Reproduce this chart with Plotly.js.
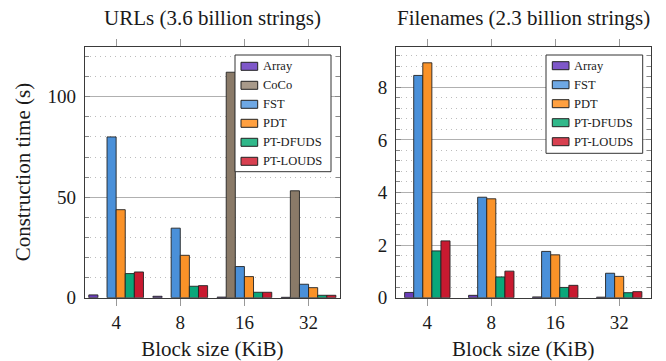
<!DOCTYPE html>
<html>
<head>
<meta charset="utf-8">
<script src="https://cdn.plot.ly/plotly-3.0.1.min.js"></script>
<style>html,body{margin:0;padding:0;background:#fff}</style>
</head>
<body>
<div id="chart" style="width:666px;height:361px"></div>
<script>
// Block sizes shared by both panels
const blockSizes = ['4', '8', '16', '32'];

// URLs (3.6 billion strings): construction time in seconds
const urlSeries = ['Array', 'CoCo', 'FST', 'PDT', 'PT-DFUDS', 'PT-LOUDS'];
const urlArray = [1.4, 0.7, 0.3, 0.2];
const urlCoCo  = [null, null, 112.2, 53.2];
const urlFST   = [80.0, 34.6, 15.5, 6.7];
const urlPDT   = [43.8, 21.1, 10.5, 5.0];
const urlDFUDS = [12.0, 5.7, 2.7, 1.2];
const urlLOUDS = [12.8, 6.0, 2.7, 1.2];

// Filenames (2.3 billion strings): construction time in seconds
const fnSeries = ['Array', 'FST', 'PDT', 'PT-DFUDS', 'PT-LOUDS'];
const fnArray = [0.2, 0.09, 0.03, 0.02];
const fnFST   = [8.45, 3.82, 1.76, 0.93];
const fnPDT   = [8.93, 3.76, 1.63, 0.81];
const fnDFUDS = [1.78, 0.79, 0.39, 0.19];
const fnLOUDS = [2.16, 1.01, 0.47, 0.23];

const urlValues = [urlArray, urlCoCo, urlFST, urlPDT, urlDFUDS, urlLOUDS];
const fnValues = [fnArray, fnFST, fnPDT, fnDFUDS, fnLOUDS];

const barColor = {
  'Array': '#6a3db8', 'CoCo': '#8a7a68', 'FST': '#4a90d9',
  'PDT': '#fa9228', 'PT-DFUDS': '#0aa77a', 'PT-LOUDS': '#c81a30'
};
const keyColor = {
  'Array': '#7e57c9', 'CoCo': '#a89a8a', 'FST': '#6ea8e5',
  'PDT': '#ffa040', 'PT-DFUDS': '#30b88a', 'PT-LOUDS': '#d84050'
};

const W = 666, H = 361;
const px = x => x / W;
const py = y => 1 - y / H;
const FONT = 'Liberation Serif';
const INK = '#1a1a1a';
const BAR_W = 0.142;

function barTraces(names, values, xa, ya) {
  const n = names.length;
  return names.map((name, i) => ({
    type: 'bar', name: name, x: blockSizes, y: values[i],
    xaxis: xa, yaxis: ya,
    width: BAR_W, offset: (i - n / 2) * BAR_W,
    marker: {color: barColor[name], line: {color: '#222', width: 0.9}},
    showlegend: false, hoverinfo: 'skip'
  }));
}

const data = barTraces(urlSeries, urlValues, 'x', 'y')
  .concat(barTraces(fnSeries, fnValues, 'x2', 'y2'));

const frame = {
  showline: true, linecolor: '#3a3a3a', linewidth: 1, mirror: 'allticks', zeroline: false
};
function xAxis(x0, x1, anchor) {
  return Object.assign({}, frame, {
    domain: [px(x0), px(x1)], anchor: anchor, type: 'category',
    range: [-0.49, 3.49], showgrid: false,
    ticks: 'outside', ticklen: 7, tickwidth: 1, tickcolor: '#999',
    tickfont: {family: FONT, size: 19, color: INK},
    title: {text: 'Block size (KiB)', font: {family: FONT, size: 21, color: INK}, standoff: 9},
    automargin: false
  });
}
function yAxis(top, major, minor, anchor, title) {
  const ax = Object.assign({}, frame, {
    domain: [py(297.7), py(46.5)], anchor: anchor,
    range: [0, top], tick0: 0, dtick: major,
    ticks: 'inside', ticklen: 5, tickwidth: 1, tickcolor: '#888',
    showgrid: true, gridcolor: '#b0b0b0', gridwidth: 1,
    minor: {dtick: minor, ticks: 'inside', ticklen: 4, tickcolor: '#888',
            showgrid: true, gridcolor: '#bdbdbd', gridwidth: 1, griddash: '1px,4px'},
    tickfont: {family: FONT, size: 19, color: INK},
    ticklabelstandoff: 4, automargin: false
  });
  if (title) ax.title = {text: title, font: {family: FONT, size: 21, color: INK}, standoff: 11};
  return ax;
}

const shapes = [];
const annotations = [
  {text: 'URLs (3.6 billion strings)', x: px(212.3), y: py(18), xref: 'paper', yref: 'paper',
   showarrow: false, xanchor: 'center', yanchor: 'middle', font: {family: FONT, size: 21, color: INK}},
  {text: 'Filenames (2.3 billion strings)', x: px(523.3), y: py(18), xref: 'paper', yref: 'paper',
   showarrow: false, xanchor: 'center', yanchor: 'middle', font: {family: FONT, size: 21, color: INK}}
];

// Boxed key inside each panel
function key(names, bx0, bx1, by0, by1, swX, firstY) {
  shapes.push({type: 'rect', xref: 'paper', yref: 'paper',
    x0: px(bx0), x1: px(bx1), y0: py(by0), y1: py(by1),
    fillcolor: '#fff', line: {color: '#333', width: 1}, layer: 'above'});
  names.forEach((name, i) => {
    const cy = firstY + 19 * i;
    shapes.push({type: 'rect', xref: 'paper', yref: 'paper',
      x0: px(swX), x1: px(swX + 16.7), y0: py(cy - 4), y1: py(cy + 4),
      fillcolor: keyColor[name], line: {color: '#222', width: 1}, layer: 'above'});
    annotations.push({text: name, x: px(swX + 19.5), y: py(cy), xref: 'paper', yref: 'paper',
      showarrow: false, xanchor: 'left', yanchor: 'middle',
      font: {family: FONT, size: 12.5, color: INK}});
  });
}
key(urlSeries, 235, 331, 55, 171.7, 241, 66.3);
key(fnSeries, 546, 642.7, 55, 153.3, 552.3, 65.7);

const layout = {
  width: W, height: H,
  margin: {l: 0, r: 0, t: 0, b: 0},
  paper_bgcolor: '#fff', plot_bgcolor: '#fff',
  barmode: 'overlay', showlegend: false,
  font: {family: FONT, color: INK},
  xaxis: xAxis(84.7, 340, 'y'),
  yaxis: yAxis(125, 50, 10, 'x', 'Construction time (s)'),
  xaxis2: xAxis(396, 650.5, 'y2'),
  yaxis2: yAxis(9.55, 2, 0.4, 'x2', null),
  shapes: shapes,
  annotations: annotations
};

Plotly.newPlot('chart', data, layout, {staticPlot: true, displayModeBar: false});
</script>
</body>
</html>
